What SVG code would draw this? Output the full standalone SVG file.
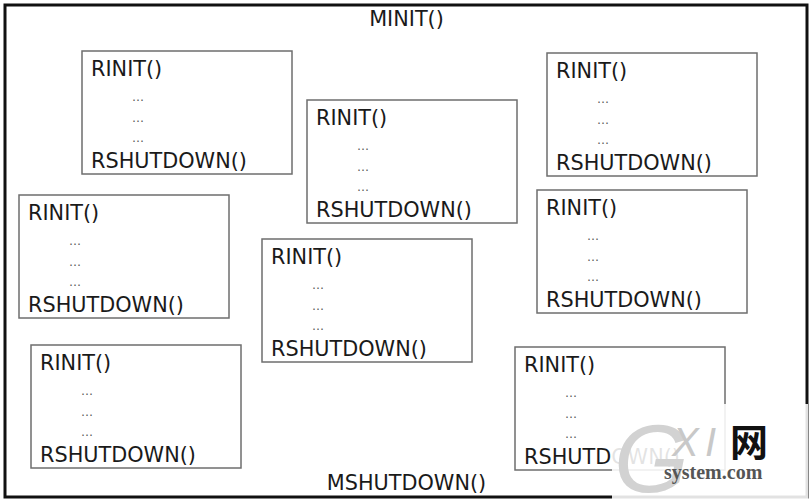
<svg xmlns="http://www.w3.org/2000/svg" width="812" height="504" viewBox="0 0 812 504">
<style>
.box{fill:none;stroke:#6e6e6e;stroke-width:1.5}
.t{font-family:"DejaVu Sans",Verdana,sans-serif;font-size:20.8px;fill:#1a1a1a}
.d{font-family:"DejaVu Sans",Verdana,sans-serif;font-size:12px;fill:#555}
</style>
<defs>
<g id="inner">
<rect class="box" x="0" y="0" width="210" height="123"/>
<text class="t" x="9" y="25">RINIT()</text>
<text class="d" x="50" y="49.5">…</text>
<text class="d" x="50" y="70.5">…</text>
<text class="d" x="50" y="91">…</text>
<text class="t" x="9" y="116.5">RSHUTDOWN()</text>
</g>
</defs>
<rect width="812" height="504" fill="#fff"/>
<g id="module">
<rect x="5" y="5" width="802" height="492" fill="none" stroke="#111" stroke-width="3"/>
<text class="t" x="406.5" y="26" text-anchor="middle">MINIT()</text>
<text class="t" x="406.5" y="490" text-anchor="middle">MSHUTDOWN()</text>
</g>
<g id="req1"><use href="#inner" x="82" y="51"/></g>
<g id="req2"><use href="#inner" x="307" y="100"/></g>
<g id="req3"><use href="#inner" x="547" y="53"/></g>
<g id="req4"><use href="#inner" x="19" y="195"/></g>
<g id="req5"><use href="#inner" x="262" y="239"/></g>
<g id="req6"><use href="#inner" x="537" y="190"/></g>
<g id="req7"><use href="#inner" x="31" y="345"/></g>
<g id="req8"><use href="#inner" x="515" y="347"/></g>
<g id="connectors"></g>
<g id="watermark">
<rect x="612" y="404" width="196" height="100" fill="#fff" fill-opacity="0.88"/>
<text x="614" y="492" font-family="'Liberation Sans',Arial,sans-serif" font-style="italic" font-size="96" fill="#d2d2d2">G</text>
<text x="672" y="456" font-family="'Liberation Sans',Arial,sans-serif" font-style="italic" font-size="40" fill="#c8c8c8">X</text>
<text x="705" y="456" font-family="'Liberation Sans',Arial,sans-serif" font-style="italic" font-size="40" fill="#c8c8c8">I</text>
<text x="730" y="456" font-family="'Noto Sans CJK SC',sans-serif" font-weight="bold" font-size="38" fill="#111">网</text>
<text x="664" y="479" font-family="'Liberation Serif','Times New Roman',serif" font-weight="bold" font-size="20" fill="#555">system.com</text>
</g>
</svg>
